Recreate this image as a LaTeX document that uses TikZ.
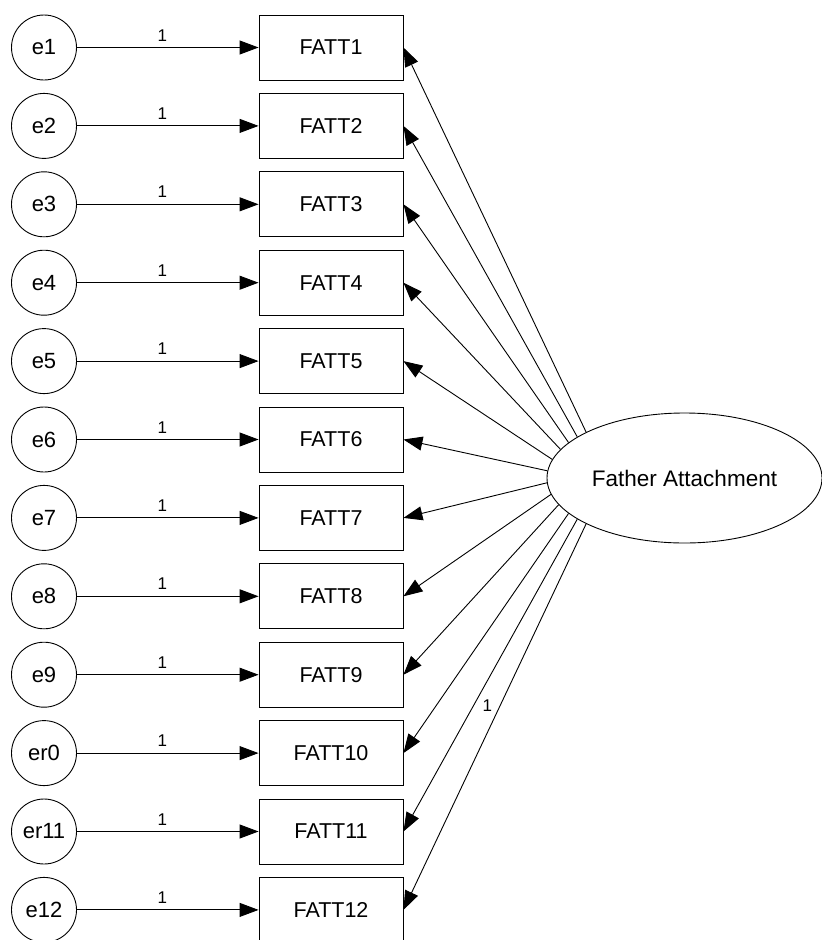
\documentclass[tikz,border=0pt]{standalone}
\usepackage{fontspec}
\setmainfont{Liberation Sans}
\usetikzlibrary{arrows.meta,shapes.geometric}
\begin{document}
\begin{tikzpicture}[x=1pt,y=-1pt,
  errvar/.style={draw, circle, minimum size=65pt, inner sep=0pt, line width=0.9pt,
    font=\fontsize{22}{22}\selectfont},
  indicator/.style={draw, rectangle, minimum width=144pt, minimum height=65pt, inner sep=0pt,
    line width=0.9pt, font=\fontsize{21.5}{21.5}\selectfont},
  factor/.style={draw, ellipse, minimum width=275pt, minimum height=130pt, inner sep=0pt,
    line width=0.9pt, font=\fontsize{22.5}{22.5}\selectfont},
  regpath/.style={-{Triangle[length=19pt,width=14pt]}, line width=0.9pt},
  weight/.style={font=\fontsize{17}{17}\selectfont, inner sep=0pt}]
\useasboundingbox (0,0) rectangle (822,940);
\clip (0,0) rectangle (822,940);

% latent factor
\node[factor] (F) at (684.5,478) {Father Attachment};

% error terms, indicators and their fixed paths
\foreach \i/\nm in {1/e1, 2/e2, 3/e3, 4/e4, 5/e5, 6/e6,
                    7/e7, 8/e8, 9/e9, 10/er0, 11/er11, 12/e12}{
  \pgfmathsetmacro{\yy}{47.5+78.4*(\i-1)}
  \node[errvar] (e\i) at (44,\yy) {\nm};
  \node[indicator] (x\i) at (331,\yy) {FATT\i};
  \draw[regpath] (e\i.east) -- node[weight, pos=0.47, above=6pt] {1} (x\i.west);
}

% factor loadings
\foreach \i/\ang in {1/155, 2/159, 3/163, 4/167.5, 5/172.5, 6/177.5,
                     7/182.5, 8/187.5, 9/192.5, 10/197, 11/201}{
  \draw[regpath] (F.\ang) -- (x\i.east);
}
\draw[regpath] (F.205) -- node[weight, pos=0.47, xshift=-13pt] {1} (x12.east);
\end{tikzpicture}
\end{document}
